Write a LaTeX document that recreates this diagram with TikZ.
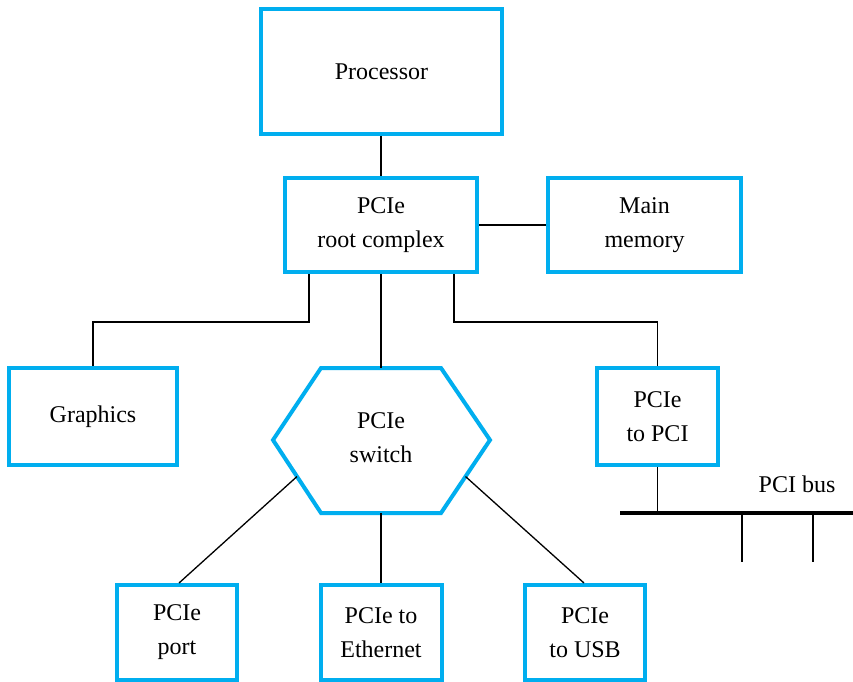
\documentclass[tikz,border=0pt]{standalone}
\usepackage{fontspec}
\setmainfont{LiberationSerif}[Extension=.ttf, UprightFont=*-Regular, BoldFont=*-Bold, ItalicFont=*-Italic, BoldItalicFont=*-BoldItalic]
\usetikzlibrary{calc}
\definecolor{boxblue}{HTML}{00AEEF}
\tikzset{
  blk/.style={draw=boxblue, line width=4pt, inner sep=0pt, align=center,
    font=\rmfamily\fontsize{24}{34}\selectfont},
  wire/.style={draw=black, line width=1.3pt},
  lbl/.style={inner sep=0pt, font=\rmfamily\fontsize{24}{34}\selectfont, align=center}
}
\begin{document}
\begin{tikzpicture}[x=1pt,y=-1pt]
\useasboundingbox[fill=white] (0,0) rectangle (853,681);
% boxes
\node[blk, minimum width=241pt, minimum height=125pt] (proc) at (381.5,71.5) {Processor};
\node[blk, minimum width=192pt, minimum height=94pt] (root) at (381,225) {PCIe\\root complex};
\node[blk, minimum width=193pt, minimum height=94pt] (mem) at (644.5,225) {Main\\memory};
\node[blk, minimum width=168pt, minimum height=97pt] (gfx) at (93,416.5) {Graphics};
\node[blk, minimum width=121pt, minimum height=97pt] (p2pci) at (657.5,416.5) {PCIe\\to PCI};
\node[blk, minimum width=120pt, minimum height=95pt] (port) at (177,632.5) {PCIe\\port};
\node[blk, minimum width=121pt, minimum height=95pt] (eth) at (381,632.5) {PCIe to\\Ethernet};
\node[blk, minimum width=120pt, minimum height=95pt] (usb) at (585,632.5) {PCIe\\to USB};
% hexagon switch
\coordinate (hl) at (273,440);
\coordinate (htl) at (321,368);
\coordinate (htr) at (441,368);
\coordinate (hr) at (490,440);
\coordinate (hbr) at (441,513);
\coordinate (hbl) at (321,513);
\draw[draw=boxblue, line width=4pt, line join=miter] (hl) -- (htl) -- (htr) -- (hr) -- (hbr) -- (hbl) -- cycle;
\node[lbl] (sw) at (381,438) {PCIe\\switch};
\coordinate (swtop) at (381,368);
\coordinate (swbot) at (381,513);
\coordinate (swbl) at ($(hl)!0.5!(hbl)$);
\coordinate (swbr) at ($(hr)!0.5!(hbr)$);
% connectors
\draw[wire] (proc.south -| root.north) -- (root);
\draw[wire] (root) -- (mem);
\draw[wire] ([xshift=-72pt]root.south) -- ++(0,48) -| (gfx.north);
\draw[wire] (root) -- (swtop);
\draw[wire] ([xshift=73pt]root.south) -- ++(0,48) -| (p2pci.north);
\draw[wire] (swbl) -- ([xshift=2pt]port.north);
\draw[wire] (swbot) -- (eth);
\draw[wire] (swbr) -- ([xshift=-1pt]usb.north);
% PCI bus
\coordinate (busL) at (620,513);
\coordinate (busR) at (853,513);
\coordinate (tapA) at (742,513);
\coordinate (tapAe) at (742,562);
\coordinate (tapB) at (813,513);
\coordinate (tapBe) at (813,562);
\draw[wire] (p2pci) -- (p2pci.south |- busL);
\draw[wire] (tapA) -- (tapAe);
\draw[wire] (tapB) -- (tapBe);
\draw[line width=4.5pt] (busL) -- (busR);
\node[lbl] (buslbl) at (797,484) {PCI bus};
\end{tikzpicture}
\end{document}
